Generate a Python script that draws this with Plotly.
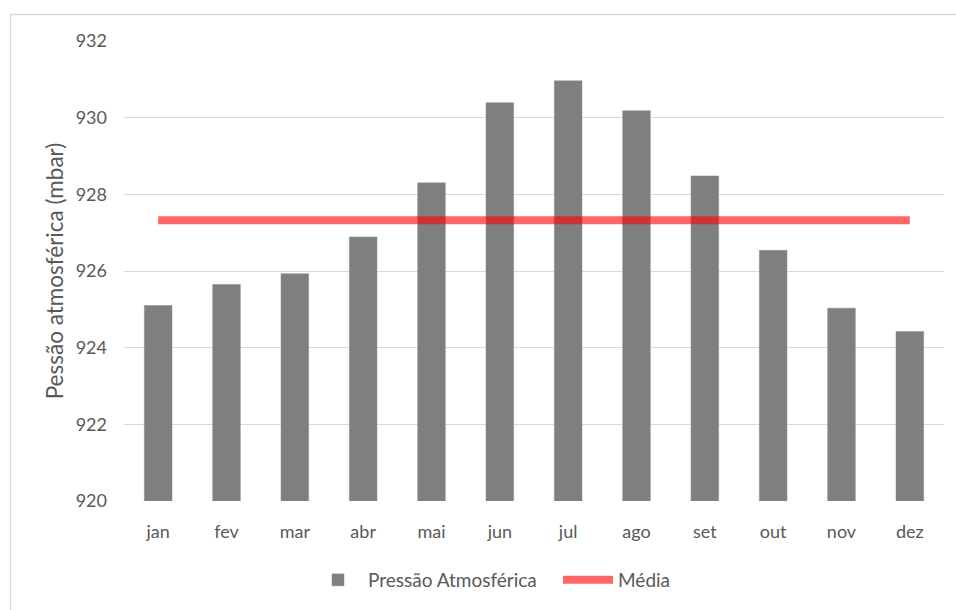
import plotly.graph_objects as go
import numpy as np

months = ["jan", "fev", "mar", "abr", "mai", "jun", "jul", "ago", "set", "out", "nov", "dez"]
pressure = [925.10, 925.65, 925.93, 926.89, 928.30, 930.39, 930.96, 930.18, 928.48, 926.54, 925.03, 924.42]
y_ticks = [920, 922, 924, 926, 928, 930, 932]
mean_value = float(np.mean(pressure))
mean_series = [mean_value] * len(months)

FONT = "Lato"
TXT = "#595959"

fig = go.Figure()
fig.add_trace(go.Bar(
    x=months, y=pressure, name="Pressão Atmosférica",
    marker=dict(color="#7F7F7F", line=dict(color="#8c8c8c", width=0.5)),
))
fig.add_trace(go.Scatter(
    x=months, y=mean_series, name="Média", mode="lines",
    line=dict(color="rgba(255,0,0,0.6)", width=8),
))

L, R, T, B = 124, 12, 41, 108
W, H = 956, 610
pw, ph = W - L - R, H - T - B

def px(xp):
    return (xp - L) / pw

def py(yp):
    return (H - B - yp) / ph

fig.update_layout(
    width=W, height=H,
    margin=dict(l=L, r=R, t=T, b=B),
    paper_bgcolor="white", plot_bgcolor="white",
    font=dict(family=FONT, color=TXT, size=18),
    bargap=0.595,
    showlegend=True,
    legend=dict(orientation="h", x=px(308), xanchor="left", y=py(580), yanchor="middle",
                font=dict(size=19, color=TXT), itemwidth=50, entrywidth=185, entrywidthmode="pixels",
                traceorder="normal"),
    xaxis=dict(showgrid=False, showline=False, ticks="", ticklabelstandoff=18,
               tickfont=dict(size=18, color=TXT)),
    yaxis=dict(range=[920, 932], tickvals=y_ticks, showgrid=True, gridcolor="#D9D9D9", gridwidth=1,
               zeroline=False, showline=False, ticks="", ticklabelstandoff=16,
               tickfont=dict(size=18, color=TXT),
               title=dict(text="Pessão atmosférica (mbar)", font=dict(size=22.5, color=TXT), standoff=5)),
    shapes=[dict(type="rect", xref="paper", yref="paper",
                 x0=px(10.5), x1=px(962), y0=py(616), y1=py(14.5),
                 line=dict(color="#D9D9D9", width=1.5), fillcolor="rgba(0,0,0,0)", layer="below")],
)

fig.write_html("out.html")
